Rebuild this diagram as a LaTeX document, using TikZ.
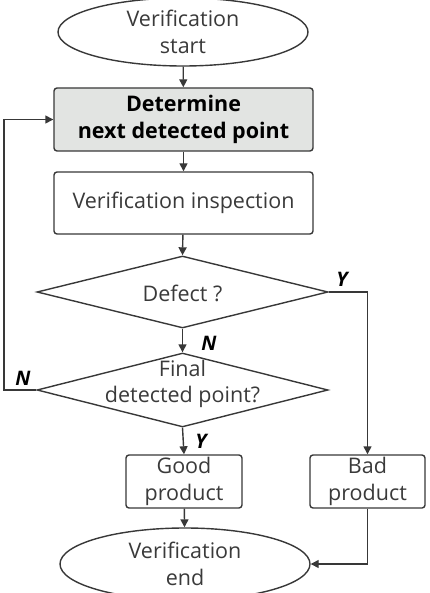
\documentclass[tikz,border=0pt]{standalone}
\usepackage{fontspec}
\setmainfont{Open Sans}
\usetikzlibrary{shapes.geometric,arrows.meta}
\definecolor{ln}{HTML}{383838}
\definecolor{tx}{HTML}{3A3A3A}
\definecolor{gfill}{HTML}{E2E4E2}
\tikzset{
  base/.style={draw=ln, line width=1.4pt, text=tx, font=\fontsize{21.5}{26.5}\selectfont, align=center, inner sep=0pt},
  term/.style={base, ellipse, minimum width=250pt, minimum height=68pt},
  proc/.style={base, rectangle, rounded corners=3pt},
  dec/.style={draw=ln, line width=1.4pt, diamond, inner sep=0pt, minimum width=291pt, minimum height=72pt},
  dtext/.style={text=tx, font=\fontsize{21.5}{26.5}\selectfont, align=center, inner sep=0pt},
  conn/.style={draw=ln, line width=1.4pt, -{Triangle[length=8pt,width=8pt]}},
  yn/.style={font=\fontsize{20}{22}\selectfont\bfseries\itshape, text=black, inner sep=0pt}
}
\begin{document}
\begin{tikzpicture}[x=1pt,y=-1pt]
\useasboundingbox (0,0) rectangle (429,593);
\node[term] (start) at (183,32) {Verification\\start};
\node[proc, fill=gfill, minimum width=259pt, minimum height=63pt, text=black, font=\fontsize{21.5}{26.5}\selectfont\bfseries] (det) at (183.5,119.5) {Determine\\next detected point};
\node[proc, minimum width=259pt, minimum height=62pt] (insp) at (183.5,203) {Verification inspection};
\node[dec] (d1) at (182.5,292) {};
\node[dtext] (d1t) at (182.5,293) {Defect ?};
\node[dec, minimum height=74pt] (d2) at (182.5,390) {};
\node[dtext] (d2t) at (182.5,384) {Final\\detected point?};
\node[proc, minimum width=116pt, minimum height=53pt] (good) at (184,481.5) {Good\\product};
\node[proc, minimum width=115pt, minimum height=53pt] (bad) at (367.5,481.5) {Bad\\product};
\node[term, minimum height=72pt] (end) at (185,564) {Verification\\end};
\coordinate (lp) at (4,390);
\draw[conn] (start) -- (det);
\draw[conn] (det) -- (insp);
\draw[conn] (insp) -- (d1.north);
\draw[conn] (d1.south) -- (d2.north);
\draw[conn] (d1.east) -| (bad.north);
\draw[conn] (d2.west) -- (lp) |- (det.west);
\draw[conn] (d2.south) -- (good.north);
\draw[conn] (good) -- (end);
\draw[conn] (bad.south) |- (end.east);
\node[yn] (y1) at (342,279) {Y};
\node[yn] (n1) at (209,343) {N};
\node[yn] (n2) at (23,378) {N};
\node[yn] (y2) at (201,441) {Y};
\end{tikzpicture}
\end{document}
